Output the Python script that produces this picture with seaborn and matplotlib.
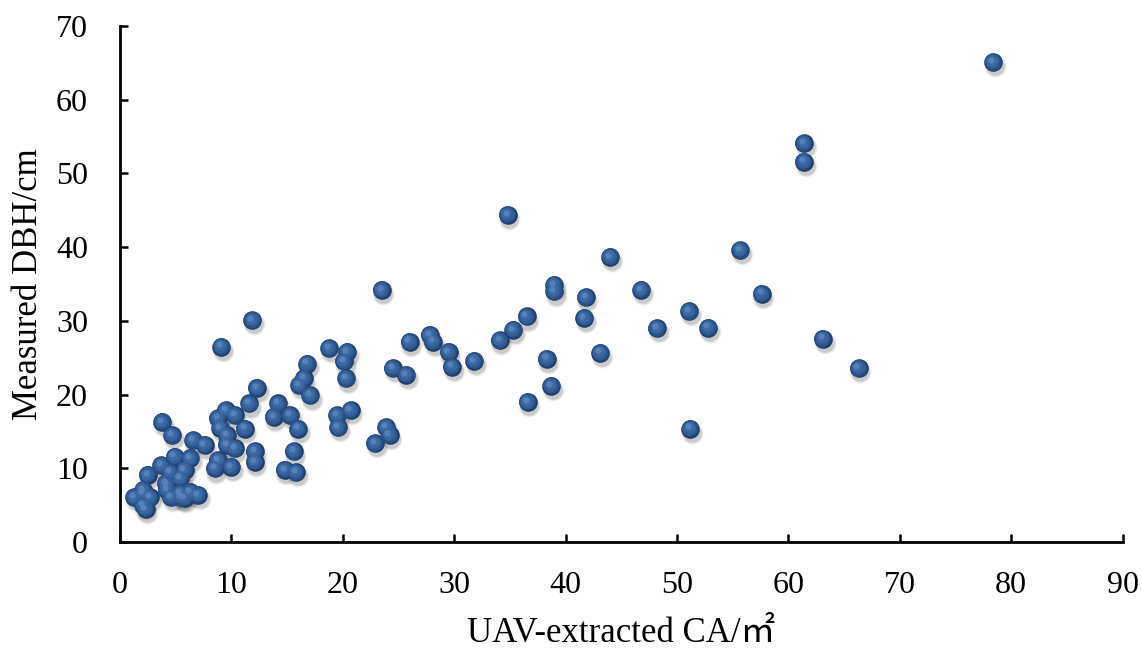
import seaborn as sns
import matplotlib.pyplot as plt
import matplotlib.transforms as mtransforms
import pandas as pd

# crown area (m2)
ca = [1.3, 2.1, 2.7, 2.1, 2.5, 2.3, 3.7, 3.8, 4.7, 4.9,
      4.1, 4.5, 5.4, 5.8, 6.3, 4.2, 4.6, 5.4, 6.3, 7.0,
      5.8, 6.6, 7.6, 8.5, 8.8, 10.0, 8.8, 9.0, 9.5, 10.3,
      9.6, 9.6, 10.3, 11.2, 11.6, 12.1, 12.1, 12.3, 11.9, 9.1,
      14.2, 13.8, 15.3, 16.0, 15.6, 14.8, 15.8, 16.1, 16.5, 16.8,
      17.1, 18.8, 20.4, 20.1, 20.3, 19.5, 20.7, 19.6, 22.9, 23.9,
      24.2, 23.5, 24.5, 25.7, 26.0, 27.8, 28.1, 29.5, 29.8, 31.8,
      34.1, 35.3, 36.5, 34.8, 36.6, 38.3, 38.7, 39.0, 39.0, 41.8,
      41.7, 43.1, 44.0, 46.8, 48.2, 51.1, 52.8, 51.2, 55.7, 57.6,
      63.1, 66.3, 61.4, 61.4, 78.4, 4.2, 5.5, 2.1]
# measured DBH (cm)
dbh = [6.1, 7.1, 6.1, 5.0, 9.1, 4.5, 10.4, 16.3, 14.5, 11.6,
       8.0, 9.5, 8.7, 9.8, 11.4, 7.1, 6.1, 6.6, 6.8, 6.4,
       6.0, 13.8, 13.2, 10.0, 11.1, 10.2, 16.8, 15.5, 17.9, 17.2,
       14.5, 13.2, 12.7, 15.4, 18.8, 12.3, 10.9, 20.9, 30.1, 26.5,
       18.8, 17.0, 17.2, 15.4, 12.3, 9.8, 9.5, 21.3, 22.2, 24.2,
       19.9, 26.3, 25.8, 24.5, 22.2, 17.2, 17.9, 15.6, 13.4, 15.6,
       14.5, 34.2, 23.6, 22.7, 27.2, 28.1, 27.2, 25.8, 23.8, 24.6,
       27.4, 28.8, 30.6, 44.4, 19.0, 24.9, 21.2, 34.9, 34.0, 33.2,
       30.4, 25.7, 38.7, 34.2, 29.0, 31.3, 29.1, 15.4, 39.6, 33.7,
       27.6, 23.6, 54.1, 51.6, 65.1, 7.7, 6.1, 6.6]

df = pd.DataFrame({"ca": ca, "dbh": dbh})

sns.set_style("white")
plt.rcParams["font.family"] = ["Liberation Serif", "DejaVu Serif"]

fig = plt.figure(figsize=(11.42, 6.5), dpi=100)
ax = fig.add_axes([0.105, 0.166, 0.878, 0.794])


def shifted(dx, dy):
    return ax.transData + mtransforms.ScaledTranslation(dx / 72, dy / 72, fig.dpi_scale_trans)


# soft shadow, then sphere layers for a 3D look
for s, a in [(260, 0.07), (210, 0.12), (175, 0.15)]:
    sns.scatterplot(data=df, x="ca", y="dbh", s=s, color="#555555", alpha=a,
                    linewidth=0, ax=ax, legend=False)
    ax.collections[-1].set_offset_transform(shifted(1.2, -3))
layers = [(180, "#1f3f6b", 0, 0), (145, "#284f84", -0.4, 0.4),
          (105, "#325d97", -0.7, 0.7), (60, "#3b68a3", -1.0, 1.0),
          (20, "#5580b8", -1.5, 1.6)]
for s, c, dx, dy in layers:
    sns.scatterplot(data=df, x="ca", y="dbh", s=s, color=c,
                    linewidth=0, ax=ax, legend=False)
    ax.collections[-1].set_offset_transform(shifted(dx, dy))

ax.set_xlim(0, 90)
ax.set_ylim(0, 70)
ax.set_xticks(range(0, 91, 10))
ax.set_yticks(range(0, 71, 10))
for side in ["top", "right"]:
    ax.spines[side].set_visible(False)
for side in ["left", "bottom"]:
    ax.spines[side].set_color("black")
    ax.spines[side].set_linewidth(2)
ax.tick_params(axis="both", direction="in", length=6, width=1.8, colors="black",
               labelsize=23, bottom=True, left=True)
ax.tick_params(axis="x", pad=21)
ax.tick_params(axis="y", pad=23)

ax.set_xlabel("UAV-extracted CA/㎡", fontsize=25, labelpad=12, color="black",
              fontfamily=["Liberation Serif", "Noto Sans CJK SC"])
ax.set_ylabel("Measured DBH/cm", fontsize=25, labelpad=8, color="black")

fig.savefig("out.png", dpi=100)
